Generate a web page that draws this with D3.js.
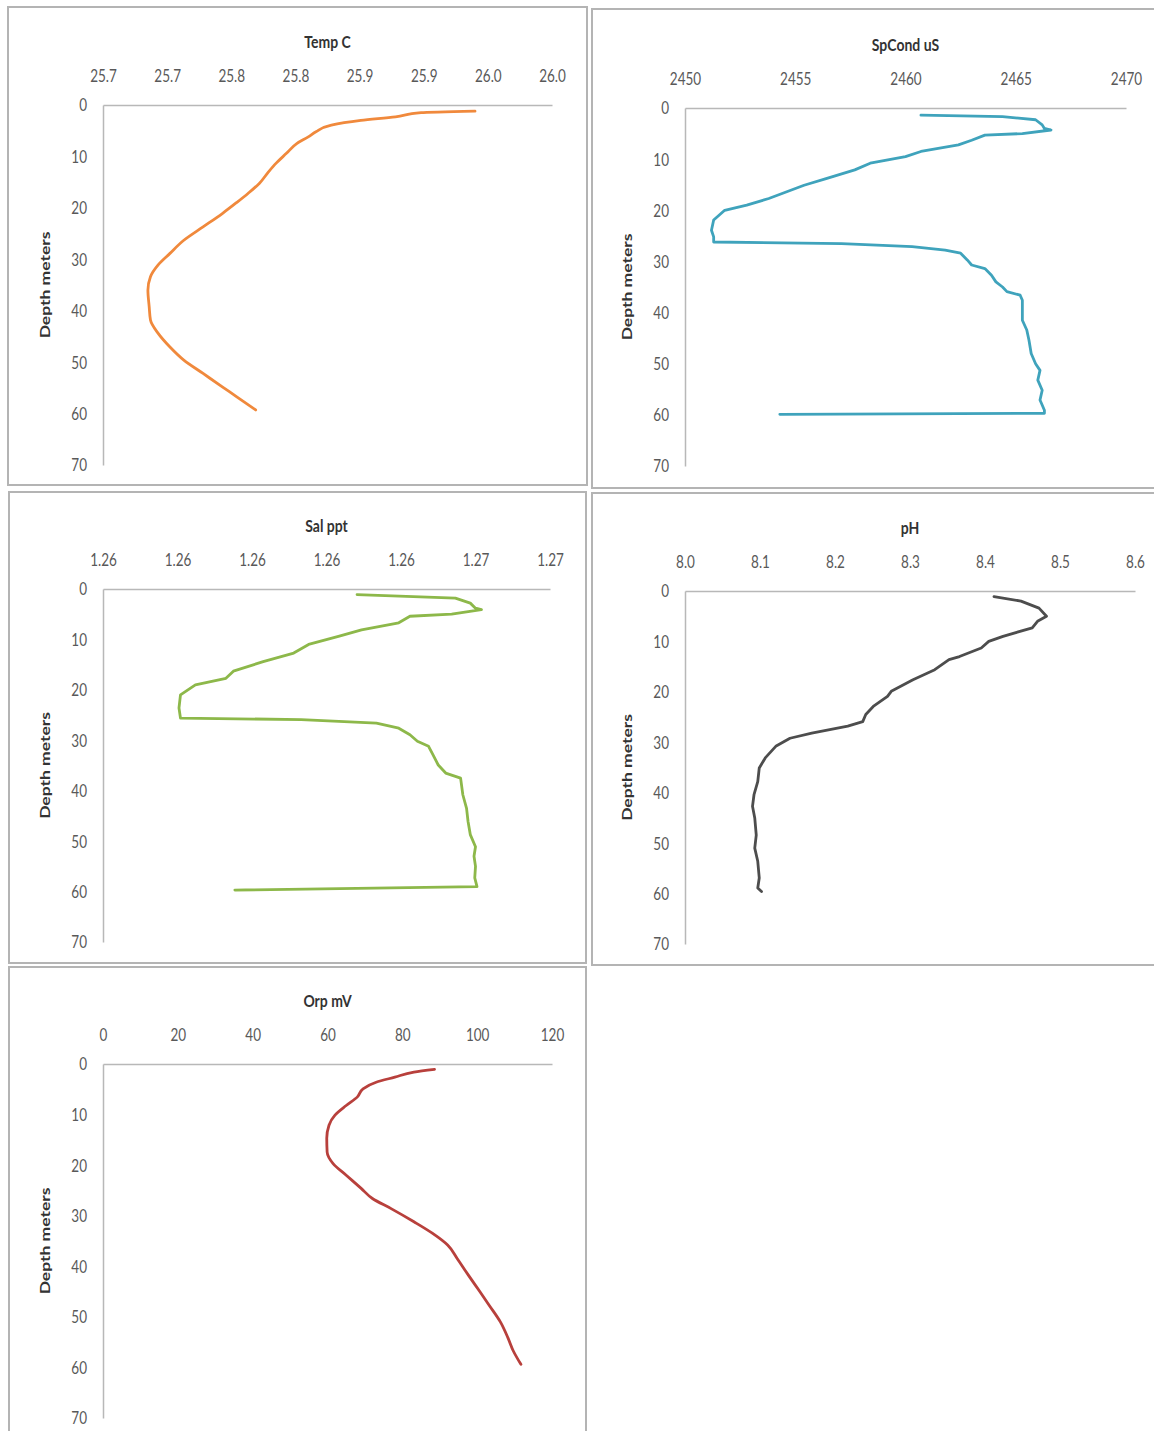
<!DOCTYPE html>
<html>
<head>
<meta charset="utf-8">
<script src="https://cdn.jsdelivr.net/npm/d3@7"></script>
<style>
  body { margin: 0; background: #fff; }
  svg { display: block; }
  text { font-family: Lato, "Open Sans", sans-serif; }
</style>
</head>
<body>
<div id="graphicContainer"></div>
<script>
// depth ticks shared by every panel
var depthTicks = [0, 10, 20, 30, 40, 50, 60, 70]

// Temp C
var tempDepth = [1.2, 1.5, 2.3, 3.0, 3.9, 5.2, 6.2, 7.5, 9.4, 11.3, 13.0, 15.2, 17.2, 19.0, 21.1, 23.7, 26.3, 28.9, 31.1, 33.4, 36.0, 39.2, 41.8, 44.4, 47.0, 49.6, 52.2, 54.8, 56.7, 59.3]
var tempC = [25.940, 25.898, 25.878, 25.851, 25.828, 25.816, 25.810, 25.801, 25.793, 25.785, 25.779, 25.772, 25.763, 25.754, 25.743, 25.728, 25.713, 25.702, 25.693, 25.687, 25.685, 25.686, 25.687, 25.693, 25.702, 25.713, 25.728, 25.743, 25.754, 25.769]
var tempTicks = [25.65, 25.70, 25.75, 25.80, 25.85, 25.90, 25.95, 26.00]
var tempTickLabels = ["25.7", "25.7", "25.8", "25.8", "25.9", "25.9", "26.0", "26.0"]

// SpCond uS
var condDepth = [1.4, 1.7, 2.3, 3.3, 4.0, 4.3, 5.0, 5.3, 6.3, 7.2, 8.5, 9.5, 10.8, 12.1, 13.8, 15.1, 17.7, 19.0, 20.0, 21.9, 23.9, 25.2, 26.2, 26.5, 27.1, 27.8, 28.4, 29.7, 30.7, 31.4, 32.7, 34.0, 35.0, 35.9, 36.6, 37.6, 41.5, 43.4, 45.4, 48.0, 50.0, 51.3, 53.2, 55.2, 57.1, 59.1, 59.7, 59.9]
var spCond = [2460.7, 2464.4, 2465.9, 2466.2, 2466.3, 2466.6, 2465.3, 2463.6, 2463.0, 2462.4, 2460.7, 2460.0, 2458.4, 2457.7, 2456.4, 2455.4, 2453.8, 2452.8, 2451.8, 2451.3, 2451.2, 2451.3, 2451.3, 2457.1, 2460.3, 2461.8, 2462.5, 2462.8, 2463.0, 2463.6, 2463.9, 2464.1, 2464.4, 2464.6, 2465.2, 2465.3, 2465.3, 2465.5, 2465.6, 2465.7, 2465.9, 2466.1, 2466.0, 2466.2, 2466.1, 2466.3, 2466.3, 2454.3]
var condTicks = [2450, 2455, 2460, 2465, 2470]
var condTickLabels = ["2450", "2455", "2460", "2465", "2470"]

// Sal ppt
var salDepth = [1.1, 1.8, 2.8, 3.8, 4.1, 5.0, 5.4, 6.7, 8.1, 9.4, 11.0, 12.7, 14.4, 16.3, 17.7, 19.0, 21.0, 23.6, 25.6, 25.9, 26.6, 27.6, 28.9, 30.2, 31.2, 32.9, 34.9, 36.5, 37.5, 40.8, 43.5, 46.1, 48.7, 51.1, 53.0, 55.0, 57.3, 59.0, 59.7]
var salPpt = [1.26341, 1.26473, 1.26493, 1.26500, 1.26508, 1.26468, 1.26412, 1.26397, 1.26347, 1.26316, 1.26276, 1.26256, 1.26215, 1.26175, 1.26165, 1.26124, 1.26104, 1.26102, 1.26104, 1.26266, 1.26367, 1.26397, 1.26412, 1.26422, 1.26437, 1.26443, 1.26450, 1.26460, 1.26480, 1.26483, 1.26488, 1.26490, 1.26493, 1.26500, 1.26498, 1.26500, 1.26499, 1.26502, 1.26177]
var salTicks = [1.260, 1.261, 1.262, 1.263, 1.264, 1.265, 1.266]
var salTickLabels = ["1.26", "1.26", "1.26", "1.26", "1.26", "1.27", "1.27"]

// pH
var phDepth = [1.1, 2.0, 3.4, 5.0, 6.0, 7.3, 9.0, 10.0, 11.3, 13.0, 13.6, 15.6, 17.6, 19.9, 20.9, 22.9, 24.5, 25.9, 26.8, 28.2, 29.2, 30.8, 33.1, 35.1, 37.8, 40.4, 42.7, 45.0, 48.4, 51.0, 53.6, 56.9, 58.9, 59.6]
var phVals = [8.412, 8.448, 8.472, 8.482, 8.470, 8.463, 8.424, 8.405, 8.395, 8.366, 8.352, 8.333, 8.304, 8.275, 8.270, 8.251, 8.241, 8.237, 8.217, 8.169, 8.140, 8.121, 8.107, 8.099, 8.097, 8.092, 8.090, 8.093, 8.095, 8.093, 8.097, 8.099, 8.097, 8.102]
var phTicks = [8.0, 8.1, 8.2, 8.3, 8.4, 8.5, 8.6]
var phTickLabels = ["8.0", "8.1", "8.2", "8.3", "8.4", "8.5", "8.6"]

// Orp mV
var orpDepth = [1.05, 1.6, 2.6, 3.6, 4.9, 6.5, 8.2, 10.1, 12.1, 14.7, 17.4, 19.7, 22.0, 24.6, 26.6, 28.6, 31.2, 33.5, 35.8, 38.4, 41.7, 45.0, 47.7, 51.0, 54.1, 56.8, 59.4]
var orpMv = [88.6, 83.1, 78.0, 73.0, 69.5, 68.0, 65.0, 62.0, 60.4, 59.8, 59.9, 61.5, 65.0, 69.0, 72.0, 77.0, 83.1, 88.1, 92.1, 94.6, 97.6, 100.7, 103.2, 106.2, 108.2, 109.7, 111.7]
var orpTicks = [0, 20, 40, 60, 80, 100, 120]
var orpTickLabels = ["0", "20", "40", "60", "80", "100", "120"]

var panels = [
  { title: "Temp C", depth: tempDepth, vals: tempC, ticks: tempTicks, labels: tempTickLabels, color: "#F0893C", smooth: true,
    box: [8, 7, 579, 478], plot: [103, 105, 552, 465] },
  { title: "SpCond uS", depth: condDepth, vals: spCond, ticks: condTicks, labels: condTickLabels, color: "#3FA3BC", smooth: false,
    box: [592, 9, 575, 479], plot: [685, 108, 1126, 466] },
  { title: "Sal ppt", depth: salDepth, vals: salPpt, ticks: salTicks, labels: salTickLabels, color: "#8DB84A", smooth: false,
    box: [9, 492, 577, 471], plot: [103, 589, 550, 942] },
  { title: "pH", depth: phDepth, vals: phVals, ticks: phTicks, labels: phTickLabels, color: "#4D4D4D", smooth: false,
    box: [592, 493, 575, 472], plot: [685, 591, 1135, 944] },
  { title: "Orp mV", depth: orpDepth, vals: orpMv, ticks: orpTicks, labels: orpTickLabels, color: "#B8403C", smooth: true,
    box: [9, 967, 577, 480], plot: [103, 1064, 552, 1418] }
]

var W = 1154, H = 1431
var textStretch = 1.25

var svg = d3.select("#graphicContainer").append("svg")
  .attr("width", W)
  .attr("height", H)

panels.forEach(function (p) {
  svg.append("rect")
    .attr("x", p.box[0]).attr("y", p.box[1])
    .attr("width", p.box[2]).attr("height", p.box[3])
    .attr("fill", "#fff")
    .attr("stroke", "#b4b4b4")
    .attr("stroke-width", 2)

  var left = p.plot[0], top = p.plot[1], right = p.plot[2], bottom = p.plot[3]

  var x = d3.scaleLinear().domain([p.ticks[0], p.ticks[p.ticks.length - 1]]).range([left, right])
  var y = d3.scaleLinear().domain([0, 70]).range([top, bottom])

  var xAxis = d3.axisTop(x).tickValues(p.ticks).tickSize(0).tickSizeOuter(0)
    .tickFormat(function (d, i) { return p.labels[i] })
  var yAxis = d3.axisLeft(y).tickValues(depthTicks).tickSize(0).tickSizeOuter(0)

  var gx = svg.append("g").attr("class", "x").attr("transform", "translate(0," + top + ")").call(xAxis)
  var gy = svg.append("g").attr("class", "y").attr("transform", "translate(" + left + ",0)").call(yAxis)

  ;[gx, gy].forEach(function (g) {
    g.select(".domain").attr("stroke", "#b8b8b8").attr("stroke-width", 1.5)
    g.selectAll("text")
      .attr("fill", "#595959")
      .style("font-size", "13.5px")
      .style("font-family", "Lato, sans-serif")
  })
  gx.selectAll("text").attr("y", -23 / textStretch).attr("dy", "0")
    .attr("transform", "scale(1," + textStretch + ")")
  gy.selectAll("text").attr("x", -16).attr("dy", "0.35em")
    .attr("transform", "scale(1," + textStretch + ")")

  // title
  svg.append("text")
    .attr("transform", "translate(" + (left + right) / 2 + "," + (top - 57) + ") scale(1," + textStretch + ")")
    .attr("text-anchor", "middle")
    .attr("fill", "#333")
    .style("font-size", "14px")
    .style("font-weight", "bold")
    .text(p.title)

  // depth label
  svg.append("text")
    .attr("transform", "translate(" + (left - 53) + "," + (top + bottom) / 2 + ") scale(1," + textStretch + ") rotate(-90)")
    .attr("text-anchor", "middle")
    .attr("fill", "#333")
    .style("font-size", "14px")
    .style("font-weight", "bold")
    .text("Depth meters")

  var line = d3.line()
    .x(function (d) { return x(d[1]) })
    .y(function (d) { return y(d[0]) })
    .curve(p.smooth ? d3.curveMonotoneY : d3.curveLinear)

  svg.append("path")
    .datum(d3.zip(p.depth, p.vals))
    .attr("fill", "none")
    .attr("stroke", p.color)
    .attr("stroke-width", 2.8)
    .attr("stroke-linejoin", "round")
    .attr("stroke-linecap", "round")
    .attr("d", line)
})
</script>
</body>
</html>
